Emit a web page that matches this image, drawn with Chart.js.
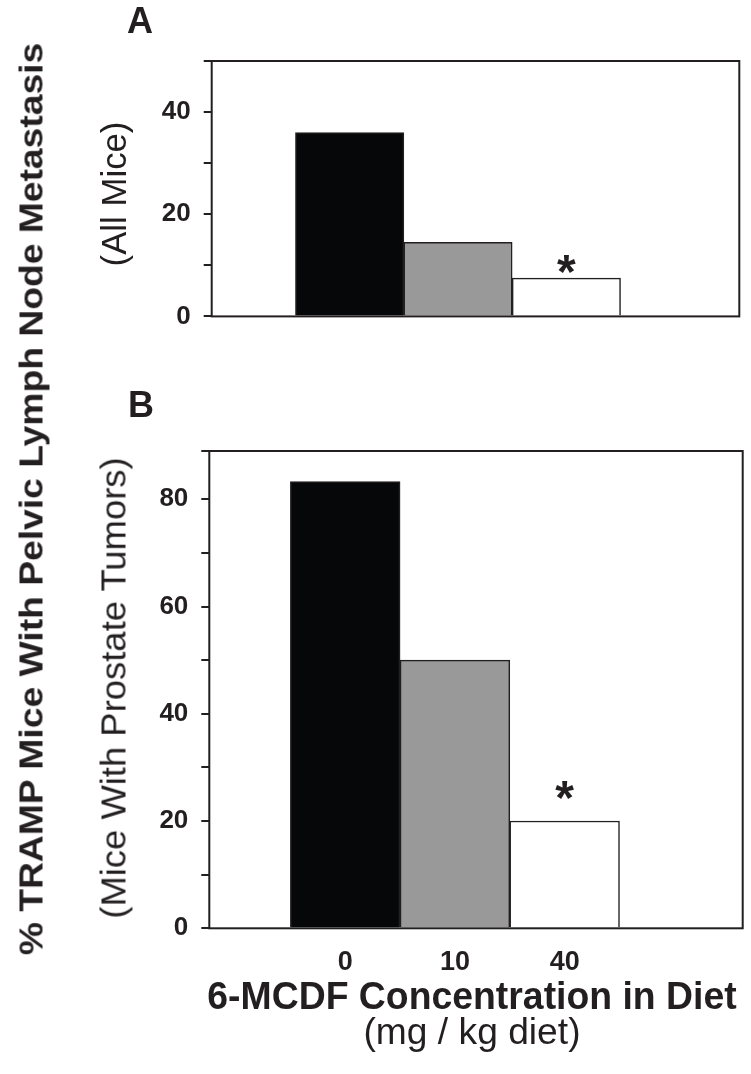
<!DOCTYPE html>
<html>
<head>
<meta charset="utf-8">
<script src="https://cdn.jsdelivr.net/npm/chart.js@4.4.1/dist/chart.umd.min.js"></script>
<style>
  html, body { margin: 0; padding: 0; background: #ffffff; }
  body { width: 751px; height: 1074px; position: relative; overflow: hidden;
         font-family: "Liberation Sans", Arial, Helvetica, sans-serif; color: #231f20; }
  canvas { position: absolute; left: 0; }
  .lbl { position: absolute; white-space: nowrap; line-height: 1; }
  .b { font-weight: bold; }
</style>
</head>
<body>
<canvas id="chartA" width="751" height="345" style="top:0px"></canvas>
<canvas id="chartB" width="751" height="600" style="top:380px"></canvas>

<div class="lbl b" id="panelA" style="font-size:36px">A</div>
<div class="lbl b" id="panelB" style="font-size:36px">B</div>
<div class="lbl b" id="yMain" style="font-size:33px">% TRAMP Mice With Pelvic Lymph Node Metastasis</div>
<div class="lbl" id="ySubA" style="font-size:35px">(All Mice)</div>
<div class="lbl" id="ySubB" style="font-size:35px">(Mice With Prostate Tumors)</div>
<div class="lbl b" id="xTitle" style="font-size:38px">6-MCDF Concentration in Diet</div>
<div class="lbl" id="xSub" style="font-size:36px">(mg / kg diet)</div>

<script>
// ---------------- data ----------------
const categories = ['0', '10', '40'];              // 6-MCDF mg/kg diet
const valuesA = [36, 14.5, 7.5];                    // % all mice with metastasis
const valuesB = [83.3, 50, 20];                     // % mice with prostate tumors
const marksA = ['', '', '*'];
const marksB = ['', '', '*'];
const yTicksA = [0, 10, 20, 30, 40, 50];
const yTickLabelsA = ['0', '', '20', '', '40', ''];
const yTicksB = [0, 10, 20, 30, 40, 50, 60, 70, 80, 89];
const yTickLabelsB = ['0', '', '20', '', '40', '', '60', '', '80', ''];
const barColors = ['#060709', '#999999', '#ffffff'];

// ---------------- plugins ----------------
const INK = '#231f20';
const framePlugin = {
  id: 'frame',
  afterDatasetsDraw(chart) {
    const { ctx, chartArea: a } = chart;
    ctx.save();
    ctx.strokeStyle = INK;
    ctx.lineWidth = 2;
    ctx.strokeRect(a.left, a.top, a.right - a.left, a.bottom - a.top);
    ctx.restore();
  }
};
const starPlugin = {
  id: 'stars',
  afterDatasetsDraw(chart, args, opts) {
    const { ctx } = chart;
    const meta = chart.getDatasetMeta(0);
    ctx.save();
    ctx.fillStyle = INK;
    ctx.font = 'bold 48px "Liberation Sans", Arial, sans-serif';
    ctx.textAlign = 'center';
    ctx.textBaseline = 'alphabetic';
    meta.data.forEach((el, i) => {
      const m = opts.marks[i];
      if (m) ctx.fillText(m, el.x, el.y - opts.gap);
    });
    ctx.restore();
  }
};

function makeChart(id, values, marks, ticks, tickLabels, g) {
  return new Chart(document.getElementById(id), {
    type: 'bar',
    data: {
      datasets: [{
        data: categories.map((c, i) => ({ x: i + 1, y: values[i] })),
        backgroundColor: barColors,
        borderColor: INK,
        borderWidth: 1.5,
        borderSkipped: 'start',
        barPercentage: 1,
        categoryPercentage: 1
      }]
    },
    options: {
      responsive: false,
      animation: false,
      events: [],
      layout: { padding: { left: 0, right: g.padRight, top: g.padTop, bottom: 0 } },
      plugins: {
        legend: { display: false },
        tooltip: { enabled: false },
        stars: { marks: marks, gap: g.starGap }
      },
      scales: {
        x: {
          type: 'linear',
          min: g.xMin, max: g.xMax,
          offset: false,
          afterBuildTicks: s => { s.ticks = categories.map((c, i) => ({ value: i + 1 })); },
          afterFit: s => { s.height = g.xHeight; },
          grid: { display: false, drawTicks: false, offset: false },
          border: { display: false },
          ticks: {
            display: g.showX, autoSkip: false, maxRotation: 0, minRotation: 0,
            padding: 18, color: INK,
            font: { family: '"Liberation Sans", Arial, sans-serif', size: 27, weight: 'bold' },
            callback: v => categories[Math.round(v) - 1] ?? ''
          }
        },
        y: {
          min: 0, max: g.yMax,
          afterBuildTicks: s => { s.ticks = ticks.map(v => ({ value: v })); },
          afterFit: s => { s.width = g.yWidth; },
          grid: { drawOnChartArea: false, drawTicks: true, tickLength: 8, color: INK, lineWidth: 2 },
          border: { display: false },
          ticks: {
            padding: 13, color: INK, autoSkip: false,
            font: { family: '"Liberation Sans", Arial, sans-serif', size: 26, weight: 'bold' },
            callback: (v, i) => tickLabels[i]
          }
        }
      }
    },
    plugins: [framePlugin, starPlugin]
  });
}

makeChart('chartA', valuesA, marksA, yTicksA, yTickLabelsA, {
  yWidth: 211.7, xHeight: 15, padTop: 61, padRight: 11.7,
  xMin: -0.273, xMax: 4.596, yMax: 50, starGap: -10, showX: false
});
makeChart('chartB', valuesB, marksB, yTicksB, yTickLabelsB, {
  yWidth: 209.3, xHeight: 51.7, padTop: 71, padRight: 8.3,
  xMin: -0.239, xMax: 4.623, yMax: 89, starGap: 7, showX: true
});

// ---------------- text placement ----------------
function place(id, cx, cy, rot, len) {
  const el = document.getElementById(id);
  const w = el.offsetWidth;
  const s = len ? len / w : 1;
  el.style.left = cx + 'px';
  el.style.top = cy + 'px';
  el.style.transform = `translate(-50%,-50%) rotate(${rot}deg) scaleX(${s})`;
}
place('panelA', 140, 21, 0, 0);
place('panelB', 141, 405, 0, 0);
place('yMain', 31, 499, -90, 912);
place('ySubA', 113, 194, -90, 145);
place('ySubB', 113, 687.5, -90, 461);
place('xTitle', 472, 996, 0, 529);
place('xSub', 472, 1032, 0, 217);
</script>
</body>
</html>
